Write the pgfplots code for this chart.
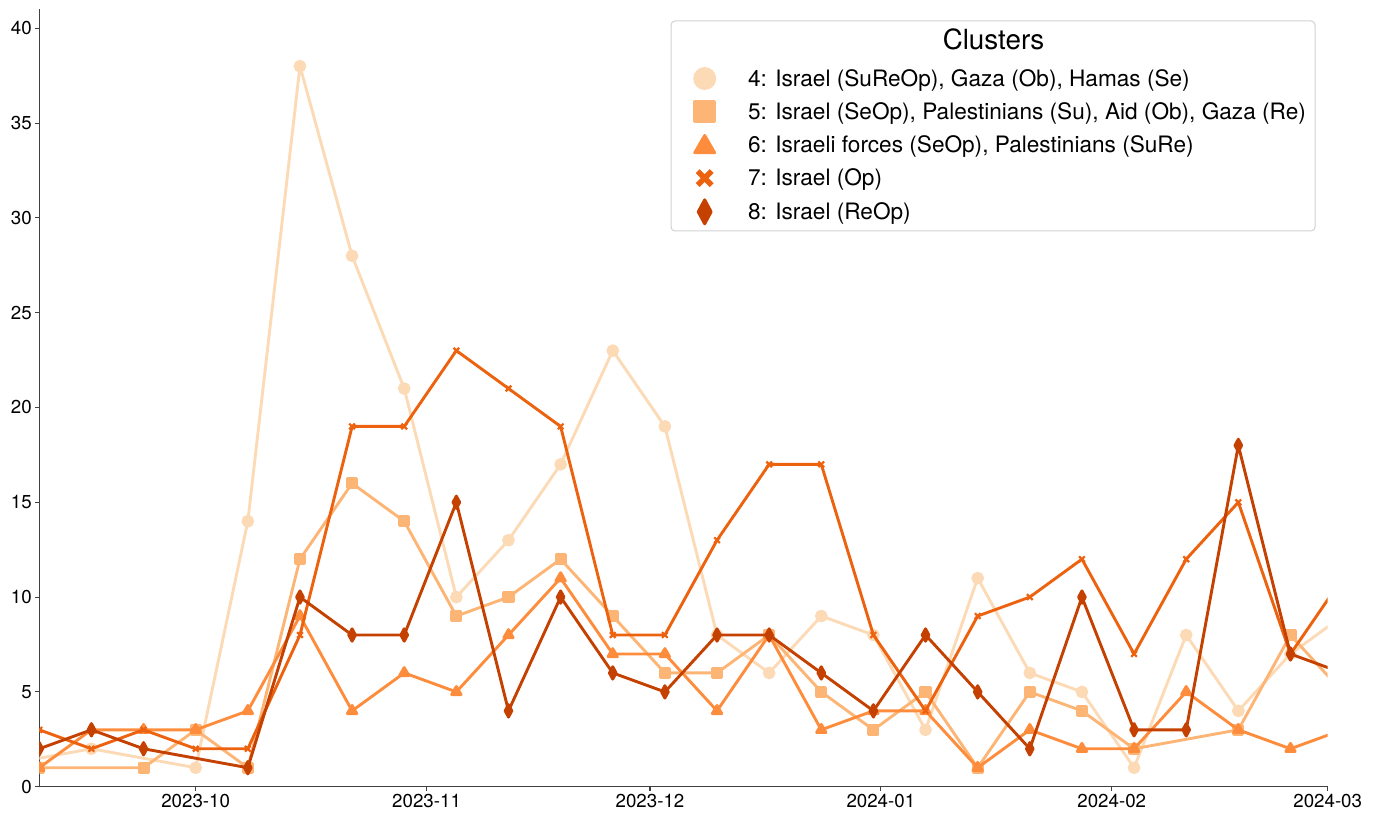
\documentclass[border=0pt]{standalone}
\usepackage{fontspec}
\setmainfont{TeX Gyre Heros}
\usepackage{pgfplots}
\pgfplotsset{compat=1.18}
\definecolor{cA}{HTML}{FDDAB6}
\definecolor{cB}{HTML}{FDB576}
\definecolor{cC}{HTML}{FD8D3C}
\definecolor{cD}{HTML}{EC620F}
\definecolor{cE}{HTML}{C54102}
\pgfplotsset{
  legA/.style={legend image code/.code={\draw[##1, mark size=10bp] plot coordinates {(10bp,0bp)}; \path (0bp,0bp) (52bp,0bp);}},
  legB/.style={legend image code/.code={\draw[##1, mark size=10bp] plot coordinates {(10bp,0bp)}; \path (0bp,0bp) (52bp,0bp);}},
  legC/.style={legend image code/.code={\draw[##1, mark size=11.5bp] plot coordinates {(10bp,-2bp)}; \path (0bp,0bp) (52bp,0bp);}},
  legD/.style={legend image code/.code={\draw[cD, line width=5.5bp] (3bp,-7bp) -- (17bp,7bp) (3bp,7bp) -- (17bp,-7bp); \path (0bp,0bp) (52bp,0bp);}},
  legE/.style={legend image code/.code={\draw[##1, mark size=12bp, mark options={draw=none, xscale=0.72}] plot coordinates {(10bp,0bp)}; \path (0bp,0bp) (52bp,0bp);}},
}
\begin{document}
\begin{tikzpicture}
\begin{axis}[
  scale only axis, width=1288.4bp, height=777.4bp,
  xmin=-21, xmax=152, ymin=0, ymax=41,
  axis x line*=bottom, axis y line*=left,
  axis line style={line width=1.1bp, color=black!75},
  xtick={0,31,61,92,123,152},
  xticklabels={2023-10,2023-11,2023-12,2024-01,2024-02,2024-03},
  ytick={0,5,...,40},
  tick align=outside, major tick length=4bp,
  tick style={line width=1.1bp, color=black!75},
  tick label style={font=\fontsize{18.8}{22}\selectfont},
  /pgf/number format/assume math mode=true,
  clip marker paths=true,
  legend cell align=left,
  legend style={at={(0.5074,0.926)}, anchor=north west, draw=none, fill=none,
    inner sep=0pt, row sep=10.2bp, column sep=0pt,
    font=\fontsize{22.7}{26}\selectfont,
    nodes={inner sep=0pt, text height=19bp, text depth=4bp}},
  every axis plot/.append style={line width=2.9bp, line join=round},
]
\addplot[color=cA, mark=*, mark size=4.9bp, mark options={draw=none}, legA]
  coordinates {(-28,1) (-14,2) (0,1) (7,14) (14,38) (21,28) (28,21) (35,10) (42,13) (49,17) (56,23) (63,19) (70,8) (77,6) (84,9) (91,8) (98,3) (105,11) (112,6) (119,5) (126,1) (133,8) (140,4) (147,7) (154,9)};
\addlegendentry{4: Israel (SuReOp), Gaza (Ob), Hamas (Se)}
\addplot[color=cB, mark=square*, mark size=4.6bp, mark options={draw=none}, legB]
  coordinates {(-21,1) (-7,1) (0,3) (7,1) (14,12) (21,16) (28,14) (35,9) (42,10) (49,12) (56,9) (63,6) (70,6) (77,8) (84,5) (91,3) (98,5) (105,1) (112,5) (119,4) (126,2) (140,3) (147,8) (154,5)};
\addlegendentry{5: Israel (SeOp), Palestinians (Su), Aid (Ob), Gaza (Re)}
\addplot[color=cC, mark=triangle*, mark size=5.4bp, mark options={draw=none}, legC]
  coordinates {(-21,1) (-14,3) (-7,3) (0,3) (7,4) (14,9) (21,4) (28,6) (35,5) (42,8) (49,11) (56,7) (63,7) (70,4) (77,8) (84,3) (91,4) (98,4) (105,1) (112,3) (119,2) (126,2) (133,5) (140,3) (147,2) (154,3)};
\addlegendentry{6: Israeli forces (SeOp), Palestinians (SuRe)}
\addplot[color=cD, mark=x, mark size=4bp, mark options={line width=2.2bp}, legD]
  coordinates {(-21,3) (-14,2) (-7,3) (0,2) (7,2) (14,8) (21,19) (28,19) (35,23) (42,21) (49,19) (56,8) (63,8) (70,13) (77,17) (84,17) (91,8) (98,4) (105,9) (112,10) (119,12) (126,7) (133,12) (140,15) (147,7) (154,11)};
\addlegendentry{7: Israel (Op)}
\addplot[color=cE, mark=diamond*, mark size=6.2bp, mark options={draw=none, xscale=0.72}, legE]
  coordinates {(-21,2) (-14,3) (-7,2) (7,1) (14,10) (21,8) (28,8) (35,15) (42,4) (49,10) (56,6) (63,5) (70,8) (77,8) (84,6) (91,4) (98,8) (105,5) (112,2) (119,10) (126,3) (133,3) (140,18) (147,7) (154,6)};
\addlegendentry{8: Israel (ReOp)}
\end{axis}
\draw[rounded corners=4bp, draw=black!18, line width=1bp] (631.7bp,555.7bp) rectangle (1275.7bp,765.7bp);
\node[anchor=base, inner sep=0pt, font=\fontsize{27.9}{32}\selectfont] at (954.2bp,736.7bp) {Clusters};
\pgfresetboundingbox
\useasboundingbox (-39.3bp,-31.3bp) rectangle (1341.7bp,786.7bp);
\end{tikzpicture}
\end{document}
